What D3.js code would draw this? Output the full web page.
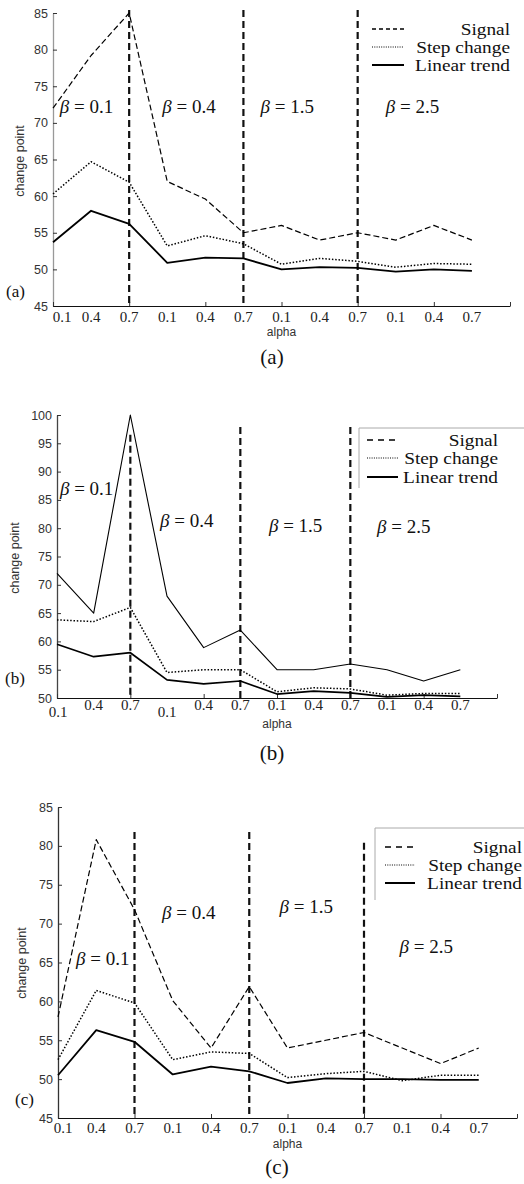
<!DOCTYPE html>
<html>
<head>
<meta charset="utf-8">
<script src="https://cdn.jsdelivr.net/npm/d3@7"></script>
<style>
  body { margin: 0; background: #fff; }
  svg { display: block; }
</style>
</head>
<body>
<div id="chart"></div>
<script>
// tick labels and annotations
var alphaLabels = ["0.1", "0.4", "0.7", "0.1", "0.4", "0.7", "0.1", "0.4", "0.7", "0.1", "0.4", "0.7"];
var betaLabels = ["0.1", "0.4", "1.5", "2.5"];
var betaBounds = [2, 5, 8];
var seriesNames = ["Signal", "Step change", "Linear trend"];

// panel (a)
var signalA = [72, 79.2, 85, 62, 59.6, 55, 56, 54, 55, 54, 56, 54];
var stepA   = [60.3, 64.7, 61.9, 53.2, 54.6, 53.5, 50.7, 51.5, 51.1, 50.3, 50.8, 50.7];
var linearA = [53.7, 58, 56.2, 50.9, 51.6, 51.5, 50, 50.3, 50.2, 49.7, 50, 49.8];

// panel (b)
var signalB = [72, 65, 100, 68, 58.9, 62, 55, 55, 56, 55, 53, 55];
var stepB   = [63.8, 63.5, 66, 54.5, 55, 55, 51.1, 51.8, 51.6, 50.5, 50.8, 50.8];
var linearB = [59.5, 57.3, 58, 53.2, 52.5, 53, 50.7, 51.2, 50.9, 50.2, 50.5, 50.3];

// panel (c)
var signalC = [58, 80.8, 71.8, 60.1, 54, 61.9, 54, 55, 56, 54, 52, 54];
var stepC   = [52.5, 61.4, 59.8, 52.5, 53.5, 53.3, 50.2, 50.7, 51, 49.8, 50.5, 50.5];
var linearC = [50.5, 56.3, 54.8, 50.6, 51.6, 51, 49.5, 50.1, 50, 50, 49.9, 49.9];

var SERIF = "'Liberation Serif', 'Times New Roman', serif";
var SANS = "'Liberation Sans', Arial, sans-serif";

var panels = [
  {
    tag: "(a)", series: [signalA, stepA, linearA],
    xRange: [53, 510], yDomain: [45, 85], yRange: [306, 13],
    yAxisColor: "#999",
    styles: [{dash: "6,3", w: 1.2}, {dash: "1.5,1.8", w: 1.5}, {dash: null, w: 1.8}],
    sepTop: [85.4, 85.4, 85.4],
    betaPos: [[0.18, 71.3], [2.87, 71.3], [5.45, 71.3], [8.74, 71.3]],
    firstDx: 9, labelDy: 16, drop: null,
    alphaY: 336, capY: 364, capX: 272, sideY: 297, sideX: 6, ylabX: 20, ylabY: 161,
    legend: {x1: 372, x2: 404, textX: 510, rows: [29, 47, 65], box: null,
             sampleDash: ["4,3", "1,1.3", null]}
  },
  {
    tag: "(b)", series: [signalB, stepB, linearB],
    xRange: [57, 497], yDomain: [50, 100], yRange: [698, 415],
    yAxisColor: "#444",
    styles: [{dash: null, w: 1.1}, {dash: "1.5,1.8", w: 1.5}, {dash: null, w: 1.7}],
    sepTop: [96.5, 97.9, 97.9],
    betaPos: [[0.08, 85.9], [2.81, 80.2], [5.78, 79.3], [8.73, 79.1]],
    firstDx: 1, labelDy: 12, drop: [7, 0, 0, 7, 0, 0, 0, 0, 0, 0, 0, 0],
    alphaY: 728, capY: 760, capX: 272, sideY: 684, sideX: 5, ylabX: 15, ylabY: 558,
    legend: {x1: 367, x2: 398, textX: 498, rows: [440, 458, 477],
             box: {x: 359, y: 428, x2: 524, y2: 488}, sampleDash: ["6,5", "1,1.3", null]}
  },
  {
    tag: "(c)", series: [signalC, stepC, linearC],
    xRange: [58, 517], yDomain: [45, 85], yRange: [1118, 807],
    yAxisColor: "#333",
    styles: [{dash: "6,3", w: 1.2}, {dash: "1.5,1.8", w: 1.5}, {dash: null, w: 1.8}],
    sepTop: [81.8, 81.8, 80.4],
    betaPos: [[0.47, 64.7], [2.72, 70.6], [5.79, 71.4], [8.93, 66.2]],
    firstDx: 5, labelDy: 15, drop: null,
    alphaY: 1148, capY: 1174, capX: 277, sideY: 1105, sideX: 15, ylabX: 22, ylabY: 963,
    legend: {x1: 385, x2: 415, textX: 522, rows: [847, 865, 883],
             box: {x: 375, y: 828, x2: 524, y2: 900}, sampleDash: ["6,5", "1,1.3", null]}
  }
];

var svg = d3.select("#chart").append("svg")
    .attr("width", 524)
    .attr("height", 1184);

panels.forEach(function (p) {
  var g = svg.append("g");
  var x = d3.scaleLinear().domain([0, 12]).range(p.xRange);
  var y = d3.scaleLinear().domain(p.yDomain).range(p.yRange);

  // Y axis (ticks point inward)
  var yAxis = g.append("g")
      .attr("transform", "translate(" + p.xRange[0] + ",0)")
      .call(d3.axisLeft(y)
          .tickValues(d3.range(p.yDomain[0], p.yDomain[1] + 1, 5))
          .tickSize(-4).tickSizeOuter(0).tickPadding(5));
  yAxis.select(".domain").attr("stroke", p.yAxisColor).attr("stroke-width", 1.3);
  yAxis.selectAll(".tick line").attr("stroke", "#333");
  yAxis.selectAll(".tick text")
      .style("font-family", SANS).style("font-size", "12.5px").attr("fill", "#333");

  // X axis
  var xAxis = g.append("g")
      .attr("transform", "translate(0," + p.yRange[0] + ")")
      .call(d3.axisBottom(x)
          .tickValues(d3.range(0, 13, 2))
          .tickSize(-4).tickSizeOuter(0).tickFormat(""));
  xAxis.select(".domain").attr("stroke", "#111").attr("stroke-width", 1.2);
  xAxis.selectAll(".tick line").attr("stroke", "#333");

  // alpha tick labels
  g.selectAll(".alab")
    .data(alphaLabels)
    .enter()
    .append("text")
      .attr("x", function (d, i) { return x(i) + (i === 0 ? p.firstDx : 0); })
      .attr("y", function (d, i) { return p.yRange[0] + p.labelDy + (p.drop ? p.drop[i] : 0); })
      .attr("text-anchor", "middle")
      .style("font-family", SERIF).style("font-size", "15px").attr("fill", "#222")
      .text(function (d) { return d; });

  // beta separators
  g.selectAll(".sep")
    .data(betaBounds)
    .enter()
    .append("line")
      .attr("x1", function (d) { return x(d); })
      .attr("x2", function (d) { return x(d); })
      .attr("y1", function (d, i) { return y(p.sepTop[i]); })
      .attr("y2", y(p.yDomain[0]))
      .attr("stroke", "#111").attr("stroke-width", 2.2)
      .attr("stroke-dasharray", "7,4");

  // series
  var line = d3.line()
      .x(function (d, i) { return x(i); })
      .y(function (d) { return y(d); });
  p.series.forEach(function (s, k) {
    g.append("path")
      .datum(s)
      .attr("d", line)
      .attr("fill", "none")
      .attr("stroke", "#000")
      .attr("stroke-width", p.styles[k].w)
      .attr("stroke-linejoin", "round")
      .attr("stroke-dasharray", p.styles[k].dash);
  });

  // beta annotations
  betaLabels.forEach(function (b, i) {
    var t = g.append("text")
      .attr("x", x(p.betaPos[i][0]))
      .attr("y", y(p.betaPos[i][1]))
      .style("font-family", SERIF).style("font-size", "19px").attr("fill", "#111");
    t.append("tspan").style("font-style", "italic").text("\u03B2");
    t.append("tspan").text(" = " + b);
  });

  // axis titles
  g.append("text")
    .attr("x", (p.xRange[0] + p.xRange[1]) / 2)
    .attr("y", p.alphaY)
    .attr("text-anchor", "middle")
    .style("font-family", SANS).style("font-size", "12px").attr("fill", "#333")
    .text("alpha");
  g.append("text")
    .attr("transform", "translate(" + p.ylabX + "," + p.ylabY + ") rotate(-90)")
    .attr("text-anchor", "middle")
    .attr("dy", "0.35em")
    .style("font-family", SANS).style("font-size", "12.5px").attr("fill", "#333")
    .text("change point");

  // panel tags
  g.append("text")
    .attr("x", p.sideX).attr("y", p.sideY)
    .style("font-family", SERIF).style("font-size", "17px").attr("fill", "#111")
    .text(p.tag);
  g.append("text")
    .attr("x", p.capX).attr("y", p.capY)
    .attr("text-anchor", "middle")
    .style("font-family", SERIF).style("font-size", "21px").attr("fill", "#111")
    .text(p.tag);

  // legend
  var L = p.legend;
  if (L.box) {
    g.append("path")
      .attr("d", "M" + L.box.x2 + "," + L.box.y + "H" + L.box.x + "V" + L.box.y2)
      .attr("fill", "none").attr("stroke", "#aaa").attr("stroke-width", 1);
  }
  seriesNames.forEach(function (name, k) {
    g.append("line")
      .attr("x1", L.x1).attr("x2", L.x2)
      .attr("y1", L.rows[k]).attr("y2", L.rows[k])
      .attr("stroke", "#000")
      .attr("stroke-width", k === 2 ? 2 : (k === 1 ? 1 : 1.6))
      .attr("stroke-dasharray", L.sampleDash[k]);
    var t = g.append("text")
      .attr("x", L.textX).attr("y", L.rows[k])
      .attr("dy", "0.35em")
      .attr("text-anchor", "end")
      .style("font-family", SERIF).style("font-size", "16.5px").attr("fill", "#111")
      .text(name);
    var w = t.node().getComputedTextLength();
    t.attr("textLength", w * 1.17).attr("lengthAdjust", "spacingAndGlyphs");
  });
});
</script>
</body>
</html>
